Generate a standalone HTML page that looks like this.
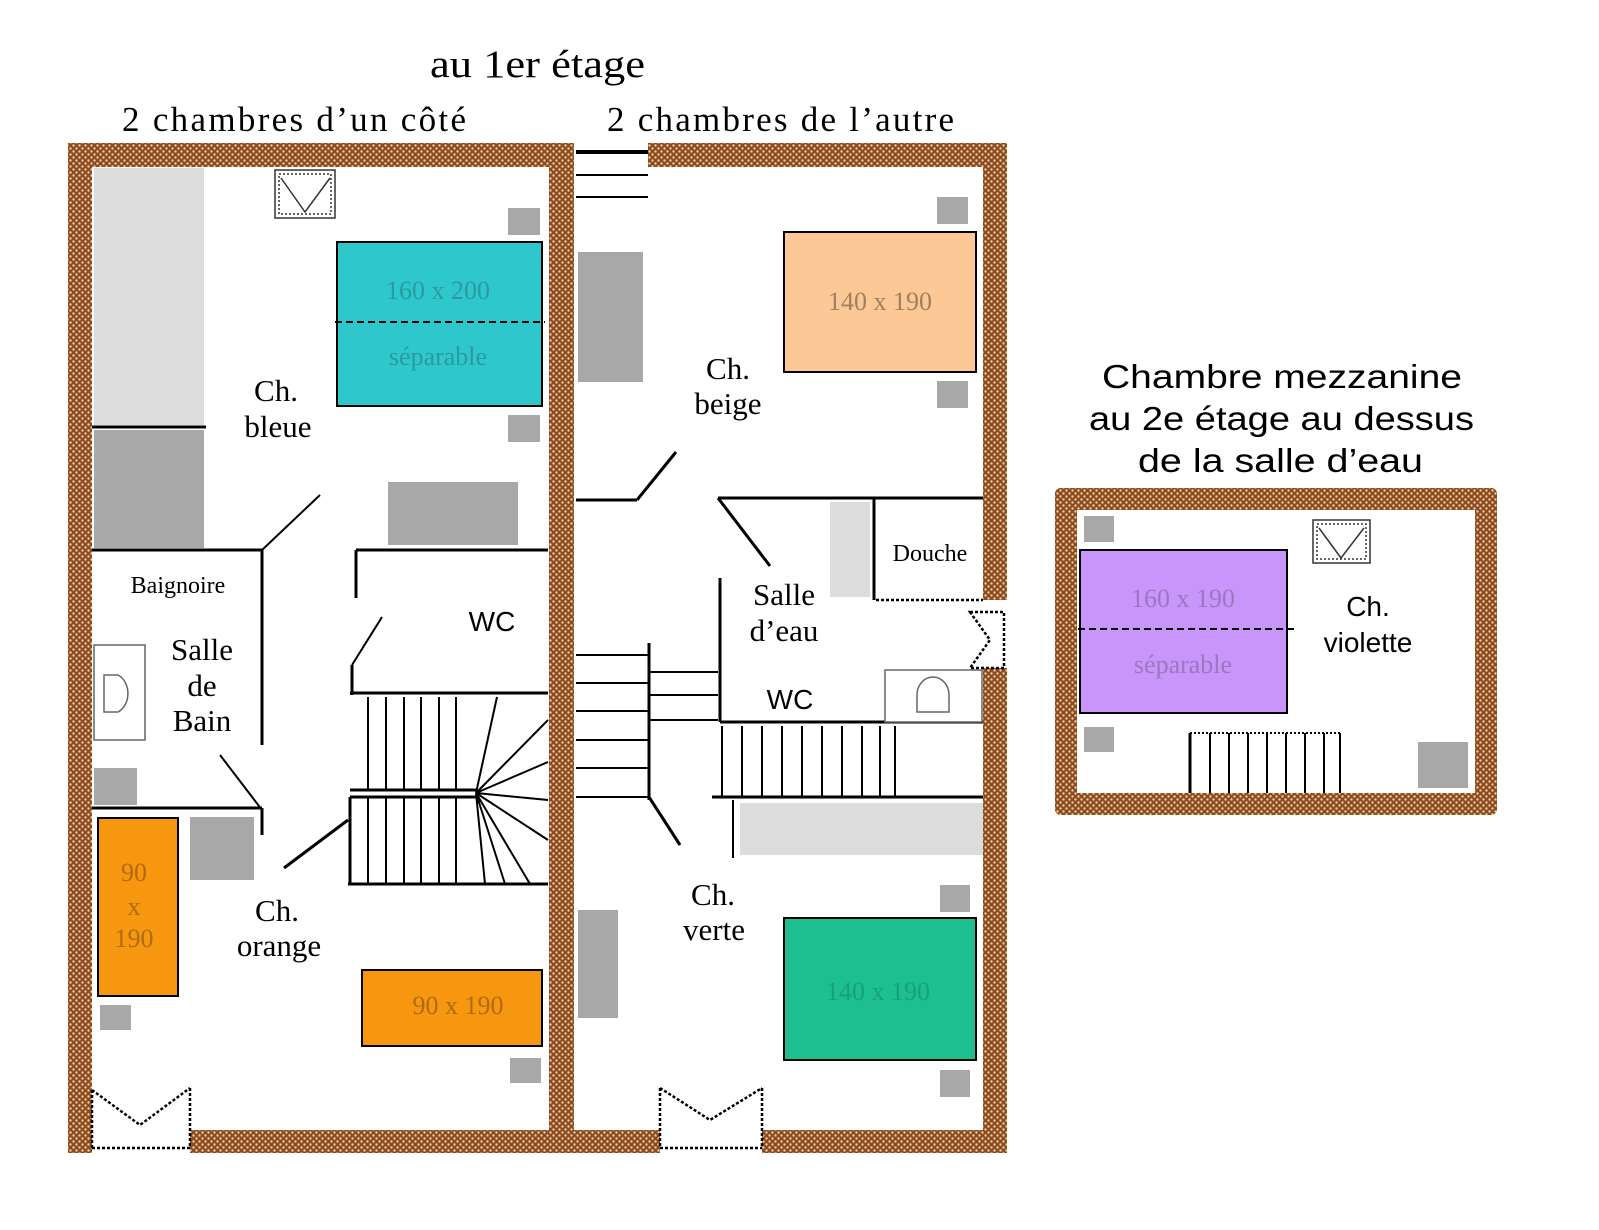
<!DOCTYPE html>
<html><head><meta charset="utf-8"><style>html,body{margin:0;padding:0;background:#fff}svg{display:block}</style></head>
<body>
<svg width="1599" height="1230" viewBox="0 0 1599 1230" xmlns="http://www.w3.org/2000/svg">
<defs>
<pattern id="w" width="6" height="6" patternUnits="userSpaceOnUse">
<rect width="6" height="6" fill="#8a4a22"/><circle cx="1.5" cy="1.5" r="1.2" fill="#f4cc98"/><circle cx="4.5" cy="4.5" r="1.2" fill="#f4cc98"/>
</pattern>
</defs>
<g font-family="Liberation Serif, serif" fill="#000">
<text x="430" y="77" font-size="39" textLength="215" lengthAdjust="spacingAndGlyphs">au 1er étage</text>
<text x="122" y="131" font-size="35" textLength="344" lengthAdjust="spacing">2 chambres  d’un côté</text>
<text x="607" y="131" font-size="35" textLength="347" lengthAdjust="spacing">2 chambres  de l’autre</text>
</g>
<g font-family="Liberation Sans, sans-serif" font-size="33" fill="#000">
<text x="1102" y="388" textLength="360" lengthAdjust="spacingAndGlyphs">Chambre mezzanine</text>
<text x="1089" y="430" textLength="385" lengthAdjust="spacingAndGlyphs">au 2e étage au dessus</text>
<text x="1138" y="472" textLength="285" lengthAdjust="spacingAndGlyphs">de la salle d’eau</text>
</g>
<g fill="url(#w)">
<rect x="68" y="143" width="506" height="24"/>
<rect x="648" y="143" width="359" height="24"/>
<rect x="68" y="143" width="24" height="1010"/>
<rect x="983" y="143" width="24" height="457"/>
<rect x="983" y="668" width="24" height="485"/>
<rect x="549" y="143" width="25" height="1010"/>
<rect x="190" y="1130" width="470" height="23"/>
<rect x="762" y="1130" width="245" height="23"/>
<rect x="1055" y="488" width="442" height="22" rx="6"/>
<rect x="1055" y="793" width="442" height="22" rx="6"/>
<rect x="1055" y="488" width="22" height="327" rx="6"/>
<rect x="1475" y="488" width="22" height="327" rx="6"/>
</g>
<rect x="94" y="168" width="110" height="257" fill="#dcdcdc"/>
<rect x="94" y="430" width="110" height="118" fill="#a8a8a8"/>
<g fill="#a8a8a8">
<rect x="508" y="208" width="32" height="27"/><rect x="508" y="415" width="32" height="27"/>
<rect x="388" y="482" width="130" height="63"/>
<rect x="94" y="768" width="43" height="37"/>
<rect x="190" y="817" width="64" height="63"/>
<rect x="100" y="1005" width="31" height="25"/>
<rect x="510" y="1058" width="31" height="25"/>
<rect x="937" y="197" width="31" height="27"/><rect x="937" y="381" width="31" height="27"/>
<rect x="578" y="252" width="65" height="130"/>
<rect x="940" y="885" width="30" height="27"/><rect x="940" y="1070" width="30" height="27"/>
<rect x="578" y="910" width="40" height="108"/>
<rect x="1084" y="516" width="30" height="26"/><rect x="1084" y="727" width="30" height="25"/>
<rect x="1418" y="742" width="50" height="46"/>
</g>
<rect x="830" y="502" width="40" height="95" fill="#dcdcdc"/>
<rect x="740" y="803" width="243" height="52" fill="#dcdcdc"/>
<g stroke="#000" stroke-width="2">
<rect x="337" y="242" width="205" height="164" fill="#2ec8cc"/>
<rect x="98" y="818" width="80" height="178" fill="#f7960f"/>
<rect x="362" y="970" width="180" height="76" fill="#f7960f"/>
<rect x="784" y="232" width="192" height="140" fill="#fcc896"/>
<rect x="784" y="918" width="192" height="142" fill="#1dbf8f"/>
<rect x="1080" y="550" width="207" height="163" fill="#c896fa"/>
</g>
<g stroke="#000" stroke-width="2" stroke-dasharray="7,4">
<line x1="335" y1="322" x2="545" y2="322"/><line x1="1078" y1="629" x2="1294" y2="629"/>
</g>
<g font-family="Liberation Serif, serif" text-anchor="middle" font-size="26">
<text x="438" y="299" fill="#2a9aa0">160 x 200</text><text x="438" y="365" fill="#2a9aa0">séparable</text>
<text x="134" y="881" fill="#b06a10">90</text><text x="134" y="915" fill="#b06a10">x</text><text x="134" y="947" fill="#b06a10">190</text>
<text x="458" y="1014" fill="#b06a10">90 x 190</text>
<text x="880" y="310" fill="#a08060">140 x 190</text>
<text x="878" y="1000" fill="#18a07a">140 x 190</text>
<text x="1183" y="607" fill="#9a78c0">160 x 190</text><text x="1183" y="673" fill="#9a78c0">séparable</text>
</g>
<g font-family="Liberation Serif, serif" text-anchor="middle" font-size="31">
<text x="276" y="401">Ch.</text><text x="278" y="437">bleue</text>
<text x="202" y="660">Salle</text><text x="202" y="696">de</text><text x="202" y="731">Bain</text>
<text x="277" y="921">Ch.</text><text x="279" y="956">orange</text>
<text x="728" y="379">Ch.</text><text x="728" y="414">beige</text>
<text x="784" y="605">Salle</text><text x="784" y="641">d’eau</text>
<text x="713" y="905">Ch.</text><text x="714" y="940">verte</text>
<text x="178" y="593" font-size="24">Baignoire</text>
<text x="930" y="561" font-size="24">Douche</text>
</g>
<g font-family="Liberation Sans, sans-serif" text-anchor="middle" font-size="28">
<text x="492" y="631">WC</text><text x="790" y="709">WC</text>
<text x="1368" y="616">Ch.</text><text x="1368" y="652">violette</text>
</g>
<g stroke="#000" stroke-width="3" fill="none">
<line x1="92" y1="427" x2="206" y2="427"/>
<line x1="262" y1="550" x2="320" y2="495" stroke-width="2"/>
<line x1="92" y1="550" x2="262" y2="550"/><line x1="262" y1="550" x2="262" y2="745"/>
<line x1="220" y1="755" x2="262" y2="810" stroke-width="2"/>
<line x1="92" y1="808" x2="262" y2="808"/><line x1="262" y1="808" x2="262" y2="835"/>
<line x1="356" y1="550" x2="548" y2="550"/><line x1="356" y1="550" x2="356" y2="598"/>
<line x1="352" y1="665" x2="382" y2="617" stroke-width="2"/><line x1="352" y1="665" x2="352" y2="695"/>
<line x1="350" y1="693" x2="548" y2="693"/>
<line x1="350" y1="790" x2="476" y2="790"/><line x1="350" y1="797" x2="476" y2="797"/>
<line x1="350" y1="797" x2="350" y2="885"/><line x1="348" y1="884" x2="548" y2="884"/>
<line x1="284" y1="868" x2="348" y2="820"/>
<line x1="576" y1="152" x2="648" y2="152" stroke-width="4"/>
<line x1="576" y1="500" x2="637" y2="500"/><line x1="637" y1="500" x2="676" y2="452"/>
<line x1="718" y1="498" x2="983" y2="498"/><line x1="718" y1="498" x2="770" y2="566"/>
<line x1="874" y1="498" x2="874" y2="600"/><line x1="720" y1="578" x2="720" y2="722"/>
<line x1="720" y1="722" x2="983" y2="722"/>
<line x1="649" y1="643" x2="649" y2="800"/><line x1="649" y1="797" x2="680" y2="845"/>
<line x1="712" y1="797" x2="983" y2="797"/>
<line x1="1190" y1="733" x2="1190" y2="793"/>
</g>
<g stroke="#000" stroke-width="2" fill="none">
<line x1="576" y1="175" x2="648" y2="175"/><line x1="576" y1="197" x2="648" y2="197"/>
<line x1="576" y1="655" x2="648" y2="655"/><line x1="576" y1="683" x2="648" y2="683"/>
<line x1="576" y1="711" x2="648" y2="711"/><line x1="576" y1="740" x2="648" y2="740"/>
<line x1="576" y1="768" x2="648" y2="768"/><line x1="576" y1="797" x2="648" y2="797"/>
<line x1="650" y1="672" x2="718" y2="672"/><line x1="650" y1="695" x2="718" y2="695"/><line x1="650" y1="720" x2="718" y2="720"/>
<line x1="733" y1="800" x2="733" y2="858"/>
<path d="M368 697V790M386 697V790M404 697V790M421 697V790M439 697V790M456 697V790"/>
<path d="M368 797V884M386 797V884M404 797V884M421 797V884M439 797V884M456 797V884"/>
<path d="M476 793L497 697M476 793L548 720M476 793L548 762M476 793L548 800M476 793L548 840M476 793L530 884M476 793L505 884M476 793L485 884"/>
<path d="M722 726V797M742 726V797M762 726V797M782 726V797M802 726V797M822 726V797M842 726V797M862 726V797M880 726V797M895 726V797"/>
<path d="M1210 733V793M1229 733V793M1248 733V793M1267 733V793M1286 733V793M1305 733V793M1324 733V793M1340 733V793"/>
<line x1="1190" y1="733" x2="1342" y2="733" stroke-dasharray="2,2"/>
</g>
<g stroke="#000" stroke-width="2.5" stroke-dasharray="3,2" fill="none">
<path d="M92 1090L140 1125L190 1088M92 1090V1148M190 1088V1148M92 1148H190"/>
<path d="M660 1088L710 1120L762 1088M660 1088V1148M762 1088V1148M660 1148H762"/>
<path d="M970 612H1004V668H970L990 640Z"/>
<line x1="876" y1="600" x2="983" y2="600"/>
</g>
<g stroke="#333" stroke-width="1.5" fill="#fff">
<rect x="275" y="170" width="60" height="48"/><rect x="279" y="174" width="52" height="40" stroke-dasharray="2,2"/>
<path d="M281 178L305 212L330 178" fill="none"/>
<rect x="1313" y="520" width="57" height="43"/><rect x="1317" y="524" width="49" height="35" stroke-dasharray="2,2"/>
<path d="M1319 528L1341 558L1364 528" fill="none"/>
</g>
<g stroke="#666" stroke-width="1.5" fill="#fff">
<rect x="94" y="645" width="51" height="95"/>
<path d="M104 675H118A16 20 0 0 1 118 712H104Z"/>
<rect x="885" y="670" width="97" height="52"/>
<path d="M917 712V695A16 18 0 0 1 949 695V712Z"/>
</g>
</svg>
</body></html>
